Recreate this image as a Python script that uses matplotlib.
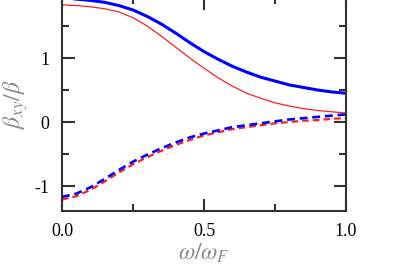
import numpy as np
import matplotlib
matplotlib.use("Agg")
import matplotlib.pyplot as plt
from matplotlib.ticker import MultipleLocator, FormatStrFormatter

plt.rcParams['font.family'] = ['Liberation Serif', 'DejaVu Serif']
plt.rcParams['mathtext.fontset'] = 'stix'
plt.rcParams['axes.unicode_minus'] = False

x = [0.00, 0.05, 0.10, 0.15, 0.20, 0.25, 0.30, 0.35, 0.40, 0.45, 0.50,
     0.55, 0.60, 0.65, 0.70, 0.75, 0.80, 0.85, 0.90, 0.95, 1.00]
blue_solid = [1.93, 1.92, 1.90, 1.87, 1.82, 1.75, 1.65, 1.53, 1.39, 1.24, 1.10,
              0.98, 0.87, 0.78, 0.70, 0.64, 0.58, 0.54, 0.50, 0.47, 0.45]
red_solid = [1.83, 1.82, 1.80, 1.77, 1.72, 1.63, 1.50, 1.34, 1.17, 1.00, 0.84,
             0.69, 0.56, 0.45, 0.37, 0.30, 0.25, 0.21, 0.18, 0.16, 0.14]
blue_dashed = [-1.17, -1.12, -1.02, -0.89, -0.75, -0.62, -0.51, -0.41, -0.32, -0.24, -0.18,
               -0.13, -0.08, -0.05, -0.02, 0.01, 0.04, 0.06, 0.08, 0.10, 0.12]
red_dashed = [-1.21, -1.16, -1.06, -0.93, -0.79, -0.66, -0.55, -0.45, -0.36, -0.28, -0.21,
              -0.16, -0.11, -0.08, -0.05, -0.02, 0.00, 0.02, 0.03, 0.05, 0.06]

fig = plt.figure(figsize=(4.08, 2.73), dpi=100)
y_top = 1.95
top_px = 58 - 64 * (y_top - 1)
ax = fig.add_axes([62/408, 62/273, 284/408, (211 - top_px)/273])

ax.plot(x, red_solid, color='#ff2020', lw=0.9, solid_capstyle='butt')
ax.plot(x, blue_solid, color='#0000ff', lw=2.2, solid_capstyle='butt')
ax.plot(x, red_dashed, color='#ff2020', lw=1.6, ls=(0, (3, 1.8)))
ax.plot(x, blue_dashed, color='#0000ff', lw=1.9, ls=(0, (3, 1.8)))

ax.set_xlim(0, 1.0)
ax.set_ylim(-1.39, y_top)

ax.xaxis.set_major_locator(MultipleLocator(0.5))
ax.xaxis.set_minor_locator(MultipleLocator(0.25))
ax.yaxis.set_major_locator(MultipleLocator(1))
ax.yaxis.set_minor_locator(MultipleLocator(0.5))
ax.xaxis.set_major_formatter(FormatStrFormatter('%.1f'))
ax.yaxis.set_major_formatter(FormatStrFormatter('%d'))

for s in ax.spines.values():
    s.set_color('#333333')
    s.set_linewidth(1.5)

ax.tick_params(which='both', direction='in', left=True, right=True, bottom=True, top=True,
               color='#333333', width=1.5, labelsize=13, labelcolor='black')
ax.tick_params(which='major', length=9)
ax.tick_params(which='minor', length=5)
ax.tick_params(axis='y', pad=9)
ax.tick_params(axis='x', pad=9)

ax.set_xlabel(r'$\omega/\omega_F$', fontsize=17, color='#888888', labelpad=1)
ax.set_ylabel(r'$\beta_{xy}/\beta$', fontsize=17, color='#888888', labelpad=3)

fig.savefig('out.png', dpi=100)
